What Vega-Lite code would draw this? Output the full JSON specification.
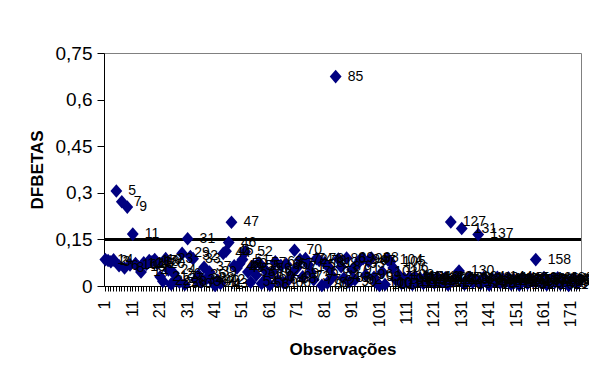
{
  "$schema": "https://vega.github.io/schema/vega-lite/v6.json",
  "width": 477,
  "height": 233,
  "autosize": {"type": "none"},
  "padding": {"left": 104, "top": 53, "right": 8, "bottom": 102},
  "background": "white",
  "config": {
    "view": {"stroke": "#808080", "strokeWidth": 1},
    "font": "Liberation Sans, Arial, sans-serif"
  },
  "data": {
    "values": [
      {"obs": 1, "dfbetas": 0.085}, {"obs": 2, "dfbetas": 0.082}, {"obs": 3, "dfbetas": 0.078}, {"obs": 4, "dfbetas": 0.084},
      {"obs": 5, "dfbetas": 0.306}, {"obs": 6, "dfbetas": 0.065}, {"obs": 7, "dfbetas": 0.271}, {"obs": 8, "dfbetas": 0.058},
      {"obs": 9, "dfbetas": 0.254}, {"obs": 10, "dfbetas": 0.068}, {"obs": 11, "dfbetas": 0.167}, {"obs": 12, "dfbetas": 0.072},
      {"obs": 13, "dfbetas": 0.062}, {"obs": 14, "dfbetas": 0.045}, {"obs": 15, "dfbetas": 0.075}, {"obs": 16, "dfbetas": 0.07},
      {"obs": 17, "dfbetas": 0.082}, {"obs": 18, "dfbetas": 0.078}, {"obs": 19, "dfbetas": 0.085}, {"obs": 20, "dfbetas": 0.072},
      {"obs": 21, "dfbetas": 0.03}, {"obs": 22, "dfbetas": 0.015}, {"obs": 23, "dfbetas": 0.088}, {"obs": 24, "dfbetas": 0.052},
      {"obs": 25, "dfbetas": 0.006}, {"obs": 26, "dfbetas": 0.04}, {"obs": 27, "dfbetas": 0.022}, {"obs": 28, "dfbetas": 0.012},
      {"obs": 29, "dfbetas": 0.105}, {"obs": 30, "dfbetas": 0.005}, {"obs": 31, "dfbetas": 0.152}, {"obs": 32, "dfbetas": 0.095},
      {"obs": 33, "dfbetas": 0.088}, {"obs": 34, "dfbetas": 0.02}, {"obs": 35, "dfbetas": 0.035}, {"obs": 36, "dfbetas": 0.012},
      {"obs": 37, "dfbetas": 0.06}, {"obs": 38, "dfbetas": 0.025}, {"obs": 39, "dfbetas": 0.045}, {"obs": 40, "dfbetas": 0.015},
      {"obs": 41, "dfbetas": 0.002}, {"obs": 42, "dfbetas": 0.018}, {"obs": 43, "dfbetas": 0.008}, {"obs": 44, "dfbetas": 0.105},
      {"obs": 45, "dfbetas": 0.112}, {"obs": 46, "dfbetas": 0.14}, {"obs": 47, "dfbetas": 0.205}, {"obs": 48, "dfbetas": 0.065},
      {"obs": 49, "dfbetas": 0.058}, {"obs": 50, "dfbetas": 0.072}, {"obs": 51, "dfbetas": 0.085}, {"obs": 52, "dfbetas": 0.11},
      {"obs": 53, "dfbetas": 0.045}, {"obs": 54, "dfbetas": 0.012}, {"obs": 55, "dfbetas": 0.065}, {"obs": 56, "dfbetas": 0.035},
      {"obs": 57, "dfbetas": 0.075}, {"obs": 58, "dfbetas": 0.008}, {"obs": 59, "dfbetas": 0.055}, {"obs": 60, "dfbetas": 0.028},
      {"obs": 61, "dfbetas": 0.003}, {"obs": 62, "dfbetas": 0.045}, {"obs": 63, "dfbetas": 0.078}, {"obs": 64, "dfbetas": 0.018},
      {"obs": 65, "dfbetas": 0.066}, {"obs": 66, "dfbetas": 0.01}, {"obs": 67, "dfbetas": 0.07}, {"obs": 68, "dfbetas": 0.022},
      {"obs": 69, "dfbetas": 0.04}, {"obs": 70, "dfbetas": 0.115}, {"obs": 71, "dfbetas": 0.06}, {"obs": 72, "dfbetas": 0.085},
      {"obs": 73, "dfbetas": 0.03}, {"obs": 74, "dfbetas": 0.088}, {"obs": 75, "dfbetas": 0.068}, {"obs": 76, "dfbetas": 0.045},
      {"obs": 77, "dfbetas": 0.02}, {"obs": 78, "dfbetas": 0.088}, {"obs": 79, "dfbetas": 0.082}, {"obs": 80, "dfbetas": 0.002},
      {"obs": 81, "dfbetas": 0.075}, {"obs": 82, "dfbetas": 0.01}, {"obs": 83, "dfbetas": 0.055}, {"obs": 84, "dfbetas": 0.03},
      {"obs": 85, "dfbetas": 0.674}, {"obs": 86, "dfbetas": 0.087}, {"obs": 87, "dfbetas": 0.062}, {"obs": 88, "dfbetas": 0.025},
      {"obs": 89, "dfbetas": 0.09}, {"obs": 90, "dfbetas": 0.012}, {"obs": 91, "dfbetas": 0.052}, {"obs": 92, "dfbetas": 0.02},
      {"obs": 93, "dfbetas": 0.072}, {"obs": 94, "dfbetas": 0.085}, {"obs": 95, "dfbetas": 0.088}, {"obs": 96, "dfbetas": 0.035},
      {"obs": 97, "dfbetas": 0.08}, {"obs": 98, "dfbetas": 0.09}, {"obs": 99, "dfbetas": 0.028}, {"obs": 100, "dfbetas": 0.01},
      {"obs": 101, "dfbetas": 0.002}, {"obs": 102, "dfbetas": 0.045}, {"obs": 103, "dfbetas": 0.005}, {"obs": 104, "dfbetas": 0.085},
      {"obs": 105, "dfbetas": 0.078}, {"obs": 106, "dfbetas": 0.058}, {"obs": 107, "dfbetas": 0.02}, {"obs": 108, "dfbetas": 0.035},
      {"obs": 109, "dfbetas": 0.008}, {"obs": 110, "dfbetas": 0.025}, {"obs": 111, "dfbetas": 0.012}, {"obs": 112, "dfbetas": 0.028},
      {"obs": 113, "dfbetas": 0.005}, {"obs": 114, "dfbetas": 0.03}, {"obs": 115, "dfbetas": 0.018}, {"obs": 116, "dfbetas": 0.022},
      {"obs": 117, "dfbetas": 0.008}, {"obs": 118, "dfbetas": 0.03}, {"obs": 119, "dfbetas": 0.015}, {"obs": 120, "dfbetas": 0.025},
      {"obs": 121, "dfbetas": 0.01}, {"obs": 122, "dfbetas": 0.028}, {"obs": 123, "dfbetas": 0.02}, {"obs": 124, "dfbetas": 0.012},
      {"obs": 125, "dfbetas": 0.026}, {"obs": 126, "dfbetas": 0.004}, {"obs": 127, "dfbetas": 0.206}, {"obs": 128, "dfbetas": 0.018},
      {"obs": 129, "dfbetas": 0.025}, {"obs": 130, "dfbetas": 0.048}, {"obs": 131, "dfbetas": 0.185}, {"obs": 132, "dfbetas": 0.006},
      {"obs": 133, "dfbetas": 0.022}, {"obs": 134, "dfbetas": 0.028}, {"obs": 135, "dfbetas": 0.012}, {"obs": 136, "dfbetas": 0.02},
      {"obs": 137, "dfbetas": 0.166}, {"obs": 138, "dfbetas": 0.008}, {"obs": 139, "dfbetas": 0.027}, {"obs": 140, "dfbetas": 0.015},
      {"obs": 141, "dfbetas": 0.003}, {"obs": 142, "dfbetas": 0.024}, {"obs": 143, "dfbetas": 0.018}, {"obs": 144, "dfbetas": 0.028},
      {"obs": 145, "dfbetas": 0.01}, {"obs": 146, "dfbetas": 0.022}, {"obs": 147, "dfbetas": 0.015}, {"obs": 148, "dfbetas": 0.026},
      {"obs": 149, "dfbetas": 0.006}, {"obs": 150, "dfbetas": 0.02}, {"obs": 151, "dfbetas": 0.012}, {"obs": 152, "dfbetas": 0.003},
      {"obs": 153, "dfbetas": 0.025}, {"obs": 154, "dfbetas": 0.018}, {"obs": 155, "dfbetas": 0.008}, {"obs": 156, "dfbetas": 0.024},
      {"obs": 157, "dfbetas": 0.015}, {"obs": 158, "dfbetas": 0.085}, {"obs": 159, "dfbetas": 0.02}, {"obs": 160, "dfbetas": 0.01},
      {"obs": 161, "dfbetas": 0.027}, {"obs": 162, "dfbetas": 0.004}, {"obs": 163, "dfbetas": 0.018}, {"obs": 164, "dfbetas": 0.022},
      {"obs": 165, "dfbetas": 0.012}, {"obs": 166, "dfbetas": 0.026}, {"obs": 167, "dfbetas": 0.006}, {"obs": 168, "dfbetas": 0.02},
      {"obs": 169, "dfbetas": 0.015}, {"obs": 170, "dfbetas": 0.002}, {"obs": 171, "dfbetas": 0.018}, {"obs": 172, "dfbetas": 0.024},
      {"obs": 173, "dfbetas": 0.008}, {"obs": 174, "dfbetas": 0.02}
    ]
  },
  "layer": [
    {
      "mark": {"type": "rule", "color": "black", "strokeWidth": 2},
      "encoding": {"y": {"datum": 0.15, "type": "quantitative"}}
    },
    {
      "mark": {"type": "point", "shape": "M-1,0L0,-1.15L1,0L0,1.15Z", "filled": true, "color": "#000080", "size": 140, "opacity": 1},
      "encoding": {
        "x": {
          "field": "obs", "type": "ordinal",
          "scale": {"type": "band", "paddingInner": 0, "paddingOuter": 0},
          "axis": {
            "title": "Observações", "titleFontSize": 17, "titleFontWeight": "bold", "titleColor": "black", "titlePadding": 15,
            "labelAngle": 270, "labelFontSize": 16, "labelColor": "black", "labelOverlap": false, "labelPadding": 9,
            "labelExpr": "(datum.value - 1) % 10 == 0 ? datum.label : ''",
            "tickColor": "black", "tickSize": 5, "domainColor": "black", "grid": false
          }
        },
        "y": {
          "field": "dfbetas", "type": "quantitative",
          "scale": {"domain": [0, 0.75], "nice": false, "zero": true},
          "axis": {
            "title": "DFBETAS", "titleFontSize": 17, "titleFontWeight": "bold", "titleColor": "black", "titlePadding": 9,
            "values": [0, 0.15, 0.3, 0.45, 0.6, 0.75],
            "labelExpr": "replace(format(datum.value, '~g'), '.', ',')",
            "labelFontSize": 19, "labelColor": "black", "labelPadding": 5,
            "tickSize": 7, "tickColor": "black", "domainColor": "black", "grid": false
          }
        }
      }
    },
    {
      "mark": {"type": "text", "align": "left", "baseline": "middle", "dx": 12, "fontSize": 14, "color": "black"},
      "encoding": {
        "x": {"field": "obs", "type": "ordinal"},
        "y": {"field": "dfbetas", "type": "quantitative"},
        "text": {"field": "obs", "type": "nominal"}
      }
    }
  ]
}
